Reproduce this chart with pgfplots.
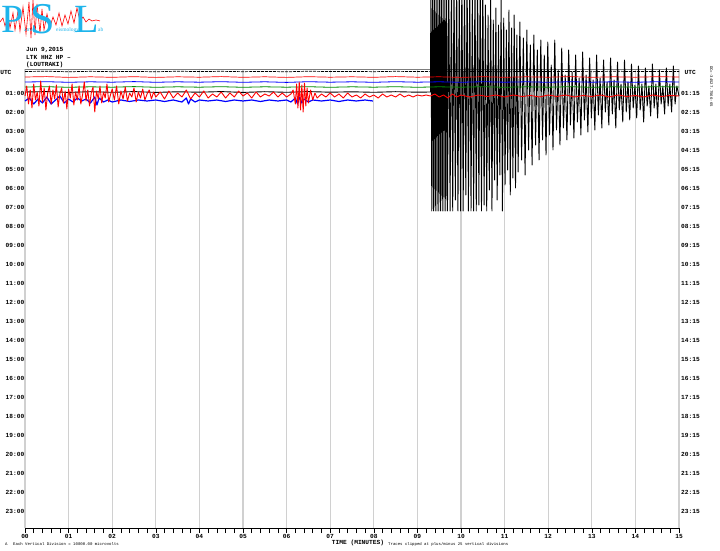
\documentclass[border=0pt]{standalone}
\usepackage{pgfplots}
\pgfplotsset{compat=1.18}
\usepackage{fontspec}
\setmainfont{Liberation Mono}
\newfontfamily\logofont{Liberation Serif}
\definecolor{gridgray}{RGB}{208,208,208}
\definecolor{logocyan}{RGB}{30,180,235}
\definecolor{trgreen}{RGB}{0,140,0}
\newcommand\lab{\bfseries\fontsize{6.2}{7}\selectfont}
\newcommand\ftiny{\fontsize{4}{4.5}\selectfont}
\begin{document}
\begin{tikzpicture}[x=1pt,y=1pt]
\path[use as bounding box] (0,0) rectangle (720,551);

% ---------- frame axis (minutes grid, bottom time axis, left hour labels)
\begin{axis}[at={(25pt,23pt)}, anchor=south west, scale only axis,
  width=654pt, height=459pt,
  xmin=0, xmax=15, ymin=69, ymax=528, y dir=reverse,
  axis x line*=bottom, axis y line*=left,
  y axis line style={draw=none},
  x axis line style={black, line width=0.8pt},
  xtick={0,...,15},
  xticklabels={00,01,02,03,04,05,06,07,08,09,10,11,12,13,14,15},
  minor x tick num=4,
  tick align=outside,
  major tick length=5pt, minor tick length=5pt,
  tick style={black, line width=0.6pt},
  ytick style={draw=none},
  xmajorgrids=true, grid style={gridgray, line width=1.3pt},
  xticklabel style={font=\lab, inner sep=1pt},
  ytick={72,93,112,131,150,169,188,207,226,245,264,283,302,321,340,359,378,397,416,435,454,473,492,511},
  yticklabels={\makebox[24pt][l]{UTC},01:00,02:00,03:00,04:00,05:00,06:00,07:00,08:00,09:00,10:00,11:00,12:00,13:00,14:00,15:00,16:00,17:00,18:00,19:00,20:00,21:00,22:00,23:00},
  yticklabel style={font=\lab, anchor=east, inner sep=1pt, xshift=5.5pt},
]
\draw[gridgray!60!black, line width=0.6pt] (axis cs:0,69) -- (axis cs:15,69);
\end{axis}

% ---------- right hour labels
\begin{axis}[at={(25pt,23pt)}, anchor=south west, scale only axis,
  width=654pt, height=459pt,
  xmin=0, xmax=15, ymin=69, ymax=528, y dir=reverse,
  axis x line=none, axis y line*=right,
  y axis line style={draw=none}, ytick style={draw=none},
  ytick={72,93,112,131,150,169,188,207,226,245,264,283,302,321,340,359,378,397,416,435,454,473,492,511},
  yticklabels={\makebox[18pt]{UTC},01:15,02:15,03:15,04:15,05:15,06:15,07:15,08:15,09:15,10:15,11:15,12:15,13:15,14:15,15:15,16:15,17:15,18:15,19:15,20:15,21:15,22:15,23:15},
  yticklabel style={font=\lab, anchor=west, inner sep=1pt, xshift=1pt},
]
\end{axis}

% ---------- traces (x in minutes, y in image pixels)
\begin{axis}[at={(0pt,0pt)}, anchor=south west, scale only axis,
  width=720pt, height=551pt,
  xmin=-0.5734, xmax=15.9404, ymin=0, ymax=551, y dir=reverse,
  hide axis, clip=true]
% 01:00 row, black, with the earthquake
\addplot[black, line width=0.9pt, line join=round] coordinates {
(0,92)(0.5,91.6)(1,92.4)(1.5,91.7)(2,92.3)(2.5,91.6)(3,92.4)(3.5,91.8)(4,92.2)(4.5,91.6)(5,92.4)(5.5,91.7)(6,92.3)(6.5,91.6)(7,92.2)(7.5,91.8)(8,92.3)(8.5,91.7)(9,92.2)(9.30,92)
(9.31,-27)(9.33,211)(9.35,-27)(9.37,211)(9.39,-27)(9.41,211)(9.43,-27)(9.45,211)(9.47,-27)(9.49,211)(9.51,-27)(9.53,211)(9.55,-27)(9.57,211)(9.59,-27)(9.61,211)(9.63,-27)(9.65,211)(9.67,-27)(9.69,211)
(9.72,-27)(9.75,211)(9.78,-27)(9.81,211)(9.84,-27)(9.87,200)(9.90,-27)(9.93,211)(9.96,-15)(9.99,211)(10.02,-27)(10.05,211)(10.08,-27)(10.11,195)(10.14,-27)(10.17,211)(10.20,-27)(10.23,211)(10.26,-10)(10.29,211)(10.32,-27)(10.35,211)(10.38,-27)(10.41,205)(10.44,-27)(10.47,211)(10.50,-27)
(10.53,205)(10.56,5)(10.59,211)(10.62,15)(10.65,190)(10.68,-5)(10.71,211)(10.74,20)(10.77,180)(10.80,8)(10.83,200)(10.86,25)(10.89,175)(10.92,0)(10.95,211)(10.98,18)(11.01,185)(11.04,30)(11.07,170)(11.10,10)(11.13,195)(11.16,28)(11.19,178)(11.22,15)(11.25,188)(11.28,35)(11.31,172)
(11.35,22)(11.39,160)(11.43,38)(11.47,175)(11.51,30)(11.55,150)(11.59,45)(11.63,165)(11.67,35)(11.71,145)(11.75,50)(11.79,160)(11.83,40)(11.87,140)(11.91,55)(11.95,155)(11.99,42)(12.03,135)
(12.07,65)(12.11,150)(12.15,40)(12.19,130)(12.23,70)(12.27,145)(12.31,48)(12.35,128)(12.39,75)(12.43,140)(12.47,50)(12.51,125)(12.55,72)(12.59,138)(12.63,55)(12.67,122)(12.71,78)(12.75,135)(12.79,52)(12.83,120)(12.87,75)(12.91,132)(12.95,58)(12.99,118)
(13.03,80)(13.07,130)(13.11,55)(13.15,115)(13.19,78)(13.23,128)(13.27,60)(13.31,112)(13.35,82)(13.39,125)(13.43,58)(13.47,114)(13.51,80)(13.55,128)(13.59,62)(13.63,110)(13.67,84)(13.71,122)(13.75,60)(13.79,112)(13.83,82)(13.87,120)(13.91,64)(13.95,108)
(13.99,85)(14.03,118)(14.07,66)(14.11,110)(14.15,84)(14.19,122)(14.23,68)(14.27,106)(14.31,86)(14.35,116)(14.39,64)(14.43,108)(14.47,84)(14.51,118)(14.55,70)(14.59,104)(14.63,86)(14.67,114)(14.71,68)(14.75,106)(14.79,84)(14.83,112)(14.87,66)(14.91,104)(14.95,86)(15.00,96)
};
% 00:00 row, black
\addplot[black, line width=0.7pt, dash pattern=on 3pt off 1pt] coordinates {
(0,71.5)(0.5,71.2)(1,71.8)(1.5,71.3)(2,71.7)(2.5,71.4)(3,71.8)(3.5,71.2)(4,71.6)(4.5,71.3)(5,71.7)(5.5,71.4)(6,71.8)(6.5,71.2)(7,71.6)(7.5,71.4)(8,71.7)(8.5,71.3)(9,71.6)(9.5,71.2)(10,71.7)(10.5,71.4)(11,71.8)(11.5,71.3)(12,71.6)(12.5,71.4)(13,71.7)(13.5,71.2)(14,71.6)(14.5,71.4)(15,71.5)
};
% 00:15 row, red
\addplot[red, line width=0.7pt] coordinates {
(0,77)(0.5,76.6)(1,77.4)(1.5,76.8)(2,77.3)(2.5,76.7)(3,77.4)(3.5,76.8)(4,77.2)(4.5,76.6)(5,77.3)(5.5,76.8)(6,77.4)(6.5,76.7)(7,77.2)(7.5,76.8)(8,77.3)(8.5,76.6)(9,77.2)(9.5,76.8)(10,77.4)(10.5,76.7)(11,77.3)(11.5,76.8)(12,77.2)(12.5,76.6)(13,77.3)(13.5,76.8)(14,77.2)(14.5,76.7)(15,77)
};
% 00:30 row, blue
\addplot[blue, line width=0.8pt] coordinates {
(0,82)(0.5,81.7)(1,82.3)(1.5,81.8)(2,82.2)(2.5,81.6)(3,82.3)(3.5,81.8)(4,82.2)(4.5,81.7)(5,82.3)(5.5,81.8)(6,82.4)(6.5,81.7)(7,82.2)(7.5,81.8)(8,82.3)(8.5,81.7)(9,82.2)(9.5,81.8)(10,82.3)(10.5,81.7)(11,82.2)(11.5,81.8)(12,82.3)(12.5,81.7)(13,82.2)(13.5,81.8)(14,82.3)(14.5,81.7)(15,82)
};
% 00:45 row, green
\addplot[trgreen, line width=0.8pt] coordinates {
(0,87)(0.5,86.7)(1,87.3)(1.5,86.8)(2,87.2)(2.5,86.6)(3,87.3)(3.5,86.8)(4,87.2)(4.5,86.7)(5,87.3)(5.5,86.8)(6,87.2)(6.5,86.7)(7,87.3)(7.5,86.8)(8,87.2)(8.5,86.7)(9,87.3)(9.5,86.8)(10,87.2)(10.5,86.7)(11,87.3)(11.5,86.8)(12,87.2)(12.5,86.7)(13,87.3)(13.5,86.8)(14,87.2)(14.5,86.7)(15,87)
};
% 01:30 row, blue (ends at about 8 minutes)
\addplot[blue, line width=1.2pt, line join=round] coordinates {
(0,101)(0.1,98)(0.2,104)(0.3,99)(0.4,103)(0.5,97)(0.6,104)(0.7,100)(0.8,96)(0.9,103)(1.0,99)(1.1,102)(1.2,98)(1.3,101)(1.4,99)(1.5,103)(1.6,97)(1.65,105)(1.7,98)(1.8,102)(1.9,100)(2.0,102)(2.2,100)(2.4,101.5)(2.6,100)(2.8,101)(3.0,100)(3.2,101.5)(3.4,100)(3.6,102)(3.7,98)(3.75,104)(3.8,99)(3.9,102)(4.0,100)(4.2,101)(4.4,100)(4.6,101.5)(4.8,100)(5.0,101)(5.2,100)(5.4,101.5)(5.6,100)(5.8,101)(6.0,100)(6.1,102)(6.2,98)(6.25,104)(6.3,97)(6.35,103)(6.4,99)(6.5,102)(6.6,100)(6.8,101)(7.0,100)(7.2,101.5)(7.4,100)(7.6,101)(7.8,100)(7.98,101)
};
% 01:15 row, red
\addplot[red, line width=0.9pt, line join=round] coordinates {
(0.00,96)(0.04,86)(0.08,104)(0.12,90)(0.16,108)(0.20,84)(0.24,100)(0.28,92)(0.32,106)(0.36,81)(0.40,102)(0.44,88)(0.48,110)(0.52,93)(0.56,86)(0.60,104)(0.64,90)(0.68,99)(0.72,85)(0.76,107)(0.80,94)(0.84,88)(0.88,103)(0.92,91)(0.96,109)
(1.00,89)(1.04,98)(1.08,84)(1.12,105)(1.16,92)(1.20,100)(1.24,86)(1.28,104)(1.32,95)(1.36,82)(1.40,101)(1.44,90)(1.48,106)(1.52,93)(1.56,87)(1.60,112)(1.64,91)(1.68,99)(1.72,86)(1.76,103)(1.80,92)(1.84,98)(1.88,84)(1.92,102)(1.96,95)
(2.00,89)(2.05,100)(2.10,86)(2.15,104)(2.20,91)(2.25,99)(2.30,87)(2.35,101)(2.40,93)(2.45,97)(2.50,88)(2.55,102)(2.60,92)(2.65,98)(2.70,89)(2.75,100)(2.80,94)(2.85,90)(2.90,99)(2.95,92)
(3.0,97)(3.1,92)(3.2,99)(3.3,91)(3.4,98)(3.5,93)(3.6,97)(3.7,90)(3.8,99)(3.9,93)(4.0,97)(4.1,91)(4.2,98)(4.3,94)(4.4,97)(4.5,92)(4.6,98)(4.7,93)(4.8,97)(4.9,91)(5.0,96)(5.1,93)(5.2,98)(5.3,92)(5.4,97)(5.5,94)(5.6,96)(5.7,92)(5.8,97)(5.9,93)(6.0,97)(6.1,94)
(6.15,90)(6.20,104)(6.23,84)(6.26,108)(6.29,82)(6.32,110)(6.35,85)(6.38,112)(6.41,83)(6.44,106)(6.47,88)(6.50,103)(6.55,90)(6.60,100)(6.65,93)
(6.7,98)(6.8,94)(6.9,97)(7.0,93)(7.1,97)(7.2,94)(7.3,98)(7.4,93)(7.5,97)(7.6,95)(7.7,98)(7.8,94)(7.9,97)(8.0,95)(8.1,98)(8.2,94)(8.3,97)(8.4,95)(8.5,97)(8.6,94)(8.7,97)(8.8,95)(8.9,97)(9.0,95)(9.1,96)(9.2,95)(9.3,96)
(9.4,94)(9.5,97)(9.6,95)(9.7,98)(9.8,94)(9.9,97)(10.0,95)(10.2,97)(10.4,95)(10.6,96.5)(10.8,95)(11.0,97)(11.2,95)(11.4,96.5)(11.6,95.5)(11.8,97)(12.0,95)(12.2,96.5)(12.4,95)(12.6,97)(12.8,95.5)(13.0,96.5)(13.2,95)(13.4,97)(13.6,95)(13.8,96.5)(14.0,95.5)(14.2,97)(14.4,95)(14.6,96.5)(14.8,95.5)(15.0,96)
};
\end{axis}

% ---------- logo
\begin{axis}[at={(0pt,511pt)}, anchor=south west, scale only axis,
  width=105pt, height=40pt, xmin=0, xmax=105, ymin=0, ymax=40, y dir=reverse,
  hide axis, clip=false]
\addplot[red, line width=0.6pt] coordinates {
(0,22)(3,18)(5,26)(8,16)(10,28)(13,13)(15,30)(18,11)(20,31)(23,7)(26,34)(29,2)(31,38)(33,0)(35,35)(37,4)(40,33)(42,9)(44,30)(47,14)(50,27)(53,17)(56,25)(59,13)(62,26)(65,15)(68,24)(71,11)(74,23)(77,8)(80,21)(83,17)(86,22)(89,19)(92,21)(96,20)(100,21)
};
\end{axis}
\node[anchor=base west, inner sep=0, text=logocyan, font=\logofont\fontsize{40}{40}\selectfont] at (1,551-33) {P};
\node[anchor=base west, inner sep=0, text=logocyan, font=\logofont\fontsize{44}{44}\selectfont] at (30,551-34) {S};
\node[anchor=base west, inner sep=0, text=logocyan, font=\logofont\fontsize{40}{40}\selectfont] at (74,551-33) {L};
\node[anchor=base west, inner sep=0, text=logocyan, font=\logofont\fontsize{5.5}{6}\selectfont] at (24,551-32) {atras};
\node[anchor=base west, inner sep=0, text=logocyan, font=\logofont\fontsize{5.5}{6}\selectfont] at (56,551-32) {eismology};
\node[anchor=base west, inner sep=0, text=logocyan, font=\logofont\fontsize{5.5}{6}\selectfont] at (98,551-32) {ab};

% ---------- header
\node[anchor=base west, inner sep=0, font=\lab] at (26,551-52) {Jun 9,2015};
\node[anchor=base west, inner sep=0, font=\lab] at (26,551-59.5) {LTK HHZ HP --};
\node[anchor=base west, inner sep=0, font=\lab] at (26,551-67) {(LOUTRAKI)};

% ---------- right-hand small scale text
\node[anchor=north west, inner sep=0, rotate=-90, font=\ftiny] at (713,551-66) {DC=-34527.7566-65};

% ---------- footer
\node[anchor=base, inner sep=0, font=\lab] at (358,551-545) {TIME (MINUTES)};
\node[anchor=base west, inner sep=0, font=\ftiny] at (5,551-546) {A};
\node[anchor=base west, inner sep=0, font=\ftiny] at (13,551-546) {Each Vertical Division = 10000.00 microvolts};
\node[anchor=base west, inner sep=0, font=\ftiny] at (388,551-546) {Traces clipped at plus/minus 25 vertical divisions};
\end{tikzpicture}
\end{document}
